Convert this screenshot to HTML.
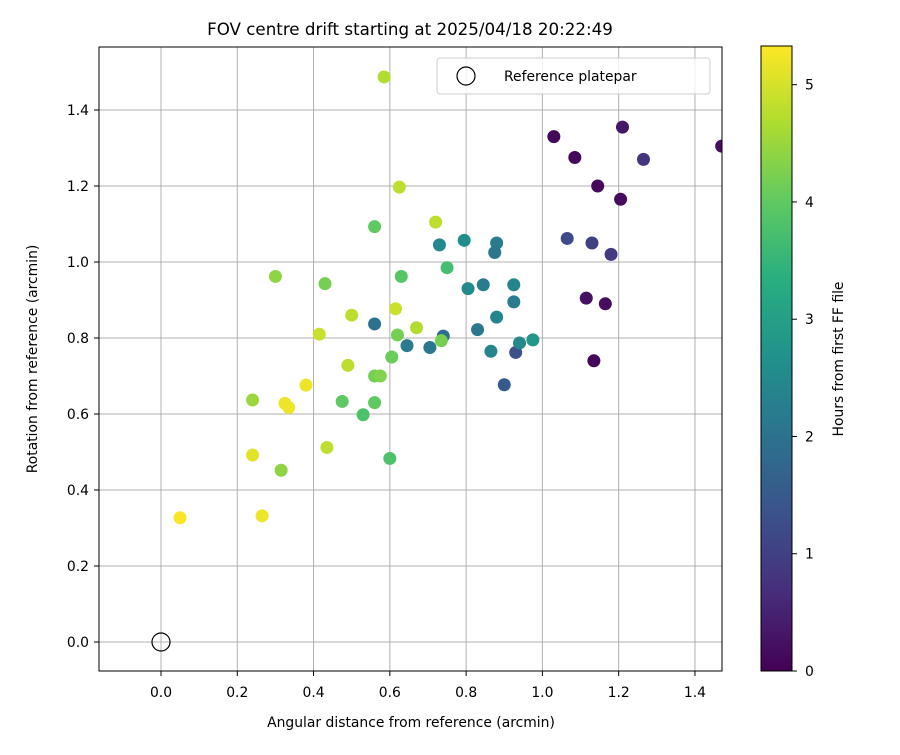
<!DOCTYPE html>
<html><head><meta charset="utf-8"><style>
body{margin:0;background:#fff}
svg{font-family:"DejaVu Sans","Liberation Sans",sans-serif}
</style></head><body>
<svg id="chart" width="900" height="750" xmlns="http://www.w3.org/2000/svg">
<defs><clipPath id="pc"><rect x="99" y="47" width="623" height="624"/></clipPath>
<linearGradient id="cg" x1="0" y1="1" x2="0" y2="0">
<stop offset="0" stop-color="#440154"/><stop offset="0.125" stop-color="#472d7b"/><stop offset="0.25" stop-color="#3b528b"/><stop offset="0.375" stop-color="#2c728e"/><stop offset="0.5" stop-color="#21918c"/><stop offset="0.625" stop-color="#28ae80"/><stop offset="0.75" stop-color="#5ec962"/><stop offset="0.875" stop-color="#addc30"/><stop offset="1" stop-color="#fde725"/></linearGradient></defs>
<text x="410" y="35" text-anchor="middle" font-size="16.7">FOV centre drift starting at 2025/04/18 20:22:49</text>
<g id="grid"></g>
<g id="pts" clip-path="url(#pc)"></g>
<rect x="99" y="47" width="623" height="624" fill="none" stroke="#000" stroke-width="1"/>
<g id="ticks"></g>
<text x="411" y="727" text-anchor="middle" font-size="13.9">Angular distance from reference (arcmin)</text>
<text transform="translate(37,359) rotate(-90)" text-anchor="middle" font-size="13.9">Rotation from reference (arcmin)</text>
<g>
<rect x="437" y="58" width="273" height="36" rx="3" fill="#fff" fill-opacity="0.8" stroke="#ccc"/>
<circle cx="466" cy="76" r="9" fill="none" stroke="#000" stroke-width="1.2"/>
<text x="504" y="81" font-size="13.9">Reference platepar</text>
</g>
<rect x="761" y="46" width="31" height="625" fill="url(#cg)" stroke="#000" stroke-width="1"/>
<g id="cticks"></g>
<text transform="translate(843,359) rotate(-90)" text-anchor="middle" font-size="13.9">Hours from first FF file</text>
</svg>
<script>
const xs=[1.03,1.085,1.145,1.205,1.21,1.135,1.165,1.115,1.47,1.265,1.18,1.13,1.065,0.93,0.9,0.795,0.73,0.88,0.875,0.845,0.805,0.925,0.925,0.83,0.88,0.865,0.94,0.975,0.74,0.705,0.645,0.56,0.75,0.63,0.56,0.735,0.62,0.605,0.56,0.575,0.56,0.53,0.475,0.6,0.43,0.30,0.585,0.625,0.72,0.615,0.67,0.50,0.415,0.49,0.435,0.24,0.315,0.38,0.325,0.335,0.24,0.265,0.05];
const ys=[1.33,1.275,1.20,1.165,1.355,0.74,0.89,0.905,1.305,1.27,1.02,1.05,1.062,0.762,0.677,1.057,1.045,1.05,1.025,0.94,0.93,0.94,0.895,0.822,0.855,0.765,0.787,0.795,0.805,0.775,0.78,0.837,0.985,0.962,1.093,0.793,0.808,0.75,0.70,0.70,0.63,0.598,0.633,0.483,0.943,0.962,1.487,1.197,1.105,0.877,0.827,0.86,0.81,0.728,0.512,0.637,0.452,0.676,0.628,0.617,0.492,0.332,0.327];
const hours=[0.1,0.1,0.1,0.15,0.3,0.1,0.2,0.25,0.2,0.8,0.9,1.0,1.2,1.3,1.5,2.6,2.5,2.2,2.1,2.2,2.5,2.4,2.2,2.1,2.4,2.4,2.5,2.8,1.9,2.1,2.2,2.0,3.7,3.9,4.0,4.2,4.2,4.1,4.2,4.3,4.0,3.8,4.0,3.8,4.2,4.4,4.7,4.8,4.8,4.9,4.7,4.8,4.9,4.8,4.8,4.5,4.4,5.2,5.2,5.2,5.1,5.2,5.3];
const xTicks=["0.0","0.2","0.4","0.6","0.8","1.0","1.2","1.4"];
const yTicks=["0.0","0.2","0.4","0.6","0.8","1.0","1.2","1.4"];
const cTicks=[0,1,2,3,4,5];
const HMAX=5.33;
const NS="http://www.w3.org/2000/svg";
const X=v=>161+v*381.4, Y=v=>642-v*380, C=h=>671-h*(625/HMAX);
const vir=[[68,1,84],[71,45,123],[59,82,139],[44,114,142],[33,145,140],[40,174,128],[94,201,98],[173,220,48],[253,231,37]];
function col(h){let t=Math.max(0,Math.min(1,h/HMAX))*8,i=Math.min(7,Math.floor(t)),f=t-i;
return 'rgb('+vir[i].map((c,k)=>Math.round(c+(vir[i+1][k]-c)*f)).join(',')+')';}
function mk(tag,at,par){const e=document.createElementNS(NS,tag);for(const k in at)e.setAttribute(k,at[k]);document.getElementById(par).appendChild(e);return e;}
xTicks.forEach(t=>{const x=X(+t);
const g=mk('line',{x1:x,x2:x,y1:47,y2:671,stroke:'#b0b0b0','stroke-width':1},'grid');


const tk=mk('line',{x1:x,x2:x,y1:671,y2:676,stroke:'#000'},'ticks');


const l=mk('text',{x:x,y:697,'text-anchor':'middle','font-size':13.9},'ticks');l.textContent=t;

});
yTicks.forEach(t=>{const y=Y(+t);
const g=mk('line',{x1:99,x2:722,y1:y,y2:y,stroke:'#b0b0b0','stroke-width':1},'grid');


const tk=mk('line',{x1:94,x2:99,y1:y,y2:y,stroke:'#000'},'ticks');


const l=mk('text',{x:89,y:y+5,'text-anchor':'end','font-size':13.9},'ticks');l.textContent=t;

});
xs.forEach((v,i)=>{const c=mk('circle',{cx:X(v),cy:Y(ys[i]),r:6.5,fill:col(hours[i])},'pts');

});
const ref=mk('circle',{cx:X(0),cy:Y(0),r:9,fill:'none',stroke:'#000','stroke-width':1.2},'pts');


cTicks.forEach(h=>{const y=C(h);
const tk=mk('line',{x1:792,x2:797,y1:y,y2:y,stroke:'#000'},'cticks');


const l=mk('text',{x:805,y:y+5,'font-size':13.9},'cticks');l.textContent=h;

});
</script>
</body></html>
